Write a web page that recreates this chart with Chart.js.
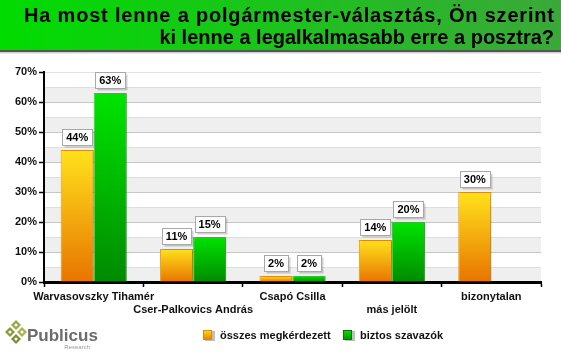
<!DOCTYPE html>
<html><head><meta charset="utf-8">
<script src="https://cdn.jsdelivr.net/npm/chart.js@4.4.1/dist/chart.umd.min.js"></script>
<style>html,body{margin:0;padding:0;background:#fff;}#wrap{width:561px;height:359px;position:relative;}</style>
</head><body><div id="wrap"><canvas id="c" width="561" height="359"></canvas></div>
<script>
const titleLines = ['Ha most lenne a polgármester-választás, Ön szerint', 'ki lenne a legalkalmasabb erre a posztra?'];
const categories = ['Warvasovszky Tihamér', 'Cser-Palkovics András', 'Csapó Csilla', 'más jelölt', 'bizonytalan'];
const seriesNames = ['összes megkérdezett', 'biztos szavazók'];
const allRespondents = [44, 11, 2, 14, 30];
const certainVoters = [63, 15, 2, 20, null];
const yMax = 70;
const yStep = 10;

const FONT = 'Arial, "Liberation Sans", sans-serif';

function makeBg(c1, c2) {
  return (context) => {
    const chart = context.chart;
    const { ctx, chartArea, scales } = chart;
    if (!chartArea || context.type !== 'data' || context.raw == null) return c2;
    const y0 = scales.y.getPixelForValue(context.raw);
    const y1 = scales.y.getPixelForValue(0);
    if (!isFinite(y0) || !isFinite(y1) || y0 === y1) return c2;
    const g = ctx.createLinearGradient(0, y0, 0, y1);
    g.addColorStop(0, c1);
    g.addColorStop(1, c2);
    return g;
  };
}

const frame = {
  id: 'frame',
  beforeDraw(chart) {
    const ctx = chart.ctx;
    const W = chart.width;
    ctx.save();
    // title band
    const g = ctx.createLinearGradient(0, 0, W, 0);
    g.addColorStop(0, '#00dc00');
    g.addColorStop(1, '#3aa83a');
    ctx.fillStyle = g;
    ctx.fillRect(0, 0, W, 50);
    ctx.fillStyle = '#555';
    ctx.fillRect(0, 50, W, 2);
    ctx.fillStyle = '#cfcfcf';
    ctx.fillRect(0, 52, W, 1);
    ctx.fillStyle = '#e8e8e8';
    ctx.fillRect(0, 53, W, 1);
    ctx.fillStyle = '#000';
    ctx.font = 'bold 20px ' + FONT;
    ctx.textAlign = 'left';
    ctx.textBaseline = 'alphabetic';
    // line 1 spans x 24..554 in the reference
    const w1 = ctx.measureText(titleLines[0]).width;
    const target = 530;
    const ls = (target - w1) / (titleLines[0].length - 1);
    let x = 24;
    for (const ch of titleLines[0]) {
      ctx.fillText(ch, x, 22);
      x += ctx.measureText(ch).width + ls;
    }
    ctx.textAlign = 'right';
    ctx.fillText(titleLines[1], 554, 44);
    // bands
    const ca = chart.chartArea;
    const y = chart.scales.y;
    for (let v = 0; v < yMax; v += 10) {
      const top = y.getPixelForValue(v + 5), bot = y.getPixelForValue(v);
      ctx.fillStyle = '#efefef';
      ctx.fillRect(ca.left, top, ca.right - ca.left, bot - top);
      ctx.fillStyle = '#dedede';
      ctx.fillRect(ca.left, Math.round(top), ca.right - ca.left, 1);
    }
    ctx.restore();
  },
  beforeDatasetsDraw(chart) {
    const ctx = chart.ctx;
    ctx.save();
    ctx.shadowColor = 'rgba(0,0,0,0.28)';
    ctx.shadowOffsetX = 2;
    ctx.shadowOffsetY = 0;
    ctx.shadowBlur = 2;
  },
  afterDatasetsDraw(chart) {
    const ctx = chart.ctx;
    ctx.restore();
    // value labels
    ctx.save();
    ctx.font = 'bold 11px ' + FONT;
    ctx.textAlign = 'center';
    ctx.textBaseline = 'middle';
    chart.data.datasets.forEach((ds, i) => {
      const meta = chart.getDatasetMeta(i);
      meta.data.forEach((bar, j) => {
        const v = ds.data[j];
        if (v == null) return;
        const t = v + '%';
        const w = Math.round(ctx.measureText(t).width) + 8;
        const h = 16;
        const x = Math.round(bar.x - w / 2) + 0.5;
        const yy = Math.round(bar.y - 5 - h) + 0.5;
        ctx.fillStyle = 'rgba(0,0,0,0.18)';
        ctx.fillRect(x + 2, yy + 2, w, h);
        ctx.fillStyle = '#fff';
        ctx.fillRect(x, yy, w, h);
        ctx.strokeStyle = '#a8a8a8';
        ctx.lineWidth = 1;
        ctx.strokeRect(x, yy, w, h);
        ctx.fillStyle = '#000';
        ctx.fillText(t, bar.x, yy + h / 2 + 0.5);
      });
    });
    ctx.restore();
  },
  afterDraw(chart) {
    const ctx = chart.ctx;
    ctx.save();
    // legend
    ctx.font = 'bold 11px ' + FONT;
    ctx.textBaseline = 'middle';
    ctx.textAlign = 'left';
    const items = [
      { x: 203, c1: '#ffe01a', c2: '#e87800', b: '#e08a00' },
      { x: 343, c1: '#00e600', c2: '#009000', b: '#007a00' }
    ];
    items.forEach((it, i) => {
      const yc = 335;
      const g = ctx.createLinearGradient(0, yc - 5, 0, yc + 5);
      g.addColorStop(0, it.c1); g.addColorStop(1, it.c2);
      ctx.fillStyle = 'rgba(0,0,0,0.25)';
      ctx.fillRect(it.x + 2, yc - 4, 10, 10);
      ctx.fillStyle = g;
      ctx.fillRect(it.x, yc - 5, 9, 10);
      ctx.strokeStyle = it.b;
      ctx.lineWidth = 1;
      ctx.strokeRect(it.x + 0.5, yc - 4.5, 8, 9);
      ctx.fillStyle = '#111';
      ctx.fillText(chart.data.datasets[i].label, it.x + 17, yc + 0.5);
    });
    // logo
    const dia = (cx, cy, r, col) => {
      ctx.fillStyle = col;
      ctx.beginPath();
      ctx.moveTo(cx, cy - r); ctx.lineTo(cx + r, cy); ctx.lineTo(cx, cy + r); ctx.lineTo(cx - r, cy); ctx.closePath();
      ctx.fill();
      ctx.fillStyle = '#fff';
      ctx.beginPath();
      ctx.arc(cx, cy, r * 0.3, 0, Math.PI * 2);
      ctx.fill();
    };
    dia(16, 325, 5, '#9aa84a');
    dia(10, 332, 5, '#8a9a3a');
    dia(22, 332, 5, '#a8b44e');
    dia(16, 339, 5, '#7f8f35');
    ctx.fillStyle = '#6b6b6b';
    ctx.font = 'bold 17px ' + FONT;
    ctx.textBaseline = 'alphabetic';
    ctx.fillText('Publicus', 27, 341);
    ctx.fillStyle = '#9a9a9a';
    ctx.font = '6px ' + FONT;
    ctx.textAlign = 'right';
    ctx.fillText('Research', 90, 349);
    ctx.restore();
  }
};

new Chart(document.getElementById('c'), {
  type: 'bar',
  data: {
    labels: categories,
    datasets: [
      {
        label: seriesNames[0],
        data: allRespondents,
        backgroundColor: makeBg('#ffe21c', '#e87400'),
        borderColor: '#f29a00',
        borderWidth: 1,
        borderSkipped: 'bottom'
      },
      {
        label: seriesNames[1],
        data: certainVoters,
        backgroundColor: makeBg('#00e400', '#008a00'),
        borderColor: '#2fd82f',
        borderWidth: 1,
        borderSkipped: 'bottom'
      }
    ]
  },
  options: {
    responsive: false,
    animation: false,
    devicePixelRatio: 1,
    layout: { padding: { top: 72, right: 20, bottom: 0, left: 0 } },
    categoryPercentage: 0.665,
    barPercentage: 1.0,
    plugins: { legend: { display: false }, tooltip: { enabled: false }, title: { display: false } },
    scales: {
      x: {
        afterFit: (s) => { s.height = 77; },
        grid: { offset: true, drawOnChartArea: false, tickLength: 5, tickColor: '#000', tickWidth: 1.5 },
        border: { color: '#000', width: 3 },
        ticks: {
          autoSkip: false, maxRotation: 0, minRotation: 0, padding: 4,
          color: '#111', font: { family: FONT, size: 11, weight: 'bold', lineHeight: 1.15 },
          callback: function (v, i) { const l = this.getLabelForValue(v); return i % 2 ? ['', l] : l; }
        }
      },
      y: {
        min: 0, max: yMax,
        afterFit: (s) => { s.width = 44; },
        grid: {
          color: (c) => c.tick && c.tick.value === yMax ? '#e2e2e2' : '#c6c6c6',
          lineWidth: 1, tickLength: 5, tickColor: '#000', tickWidth: 1.5
        },
        border: { color: '#000', width: 2 },
        ticks: {
          stepSize: yStep, padding: 2, color: '#111',
          font: { family: FONT, size: 11, weight: 'bold' },
          callback: (v) => v + '%'
        }
      }
    }
  },
  plugins: [frame]
});
</script>
</body></html>
